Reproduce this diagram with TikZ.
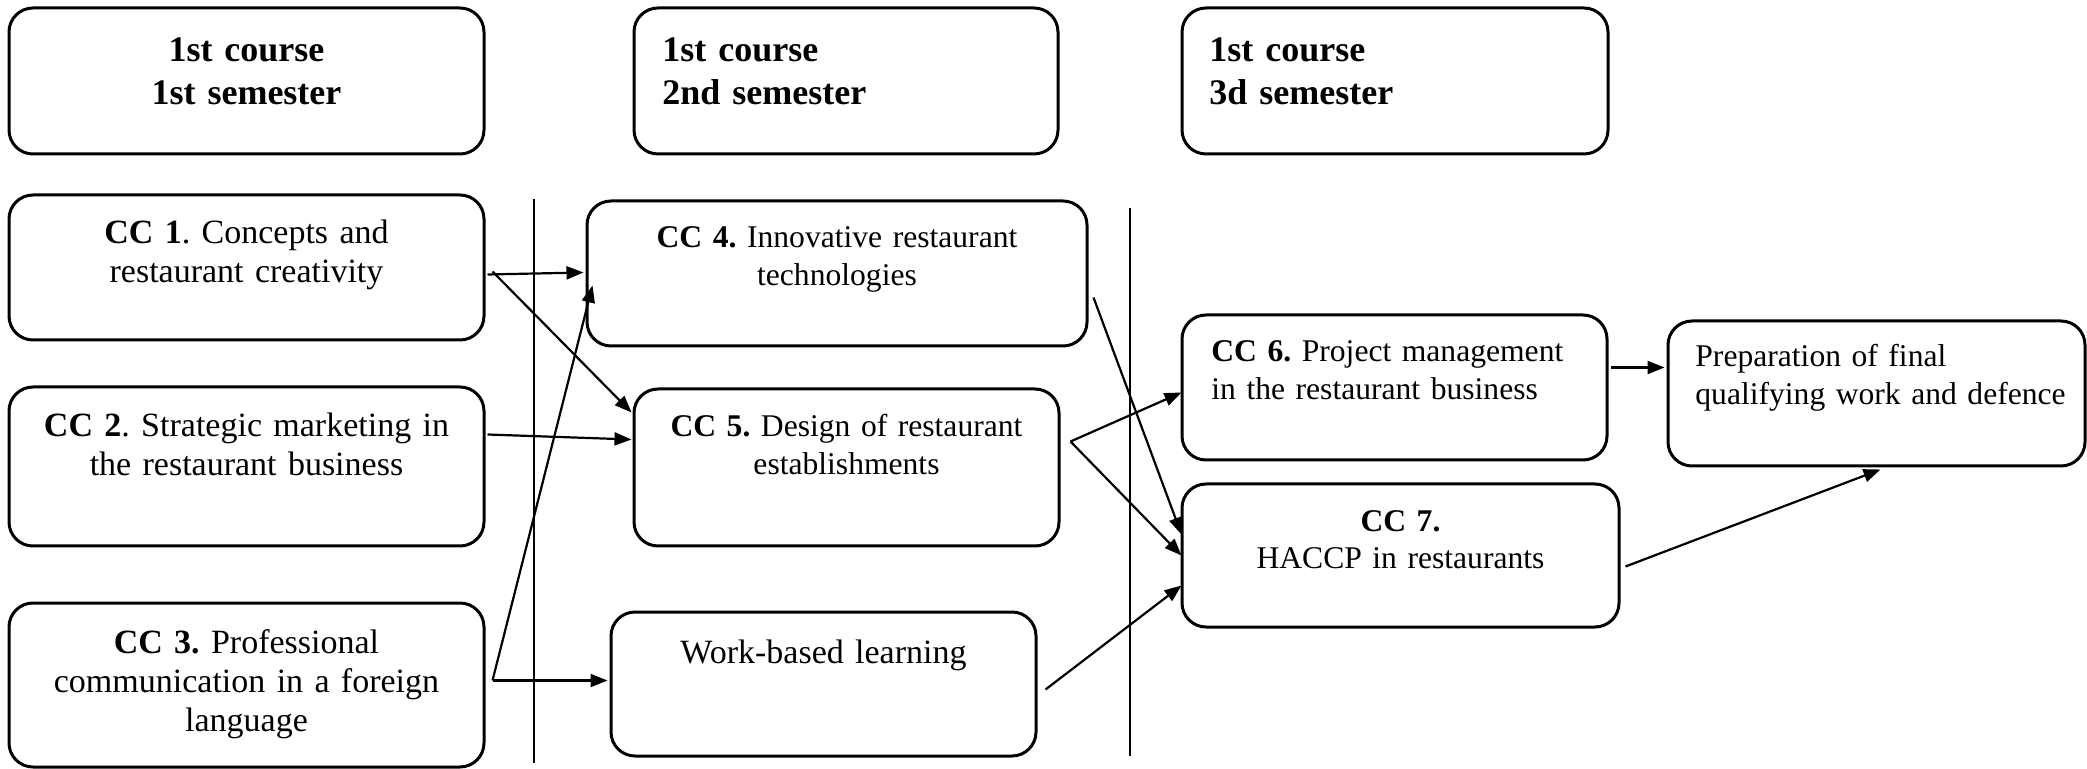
\documentclass[tikz,border=0pt]{standalone}
\usepackage{fontspec}
\setmainfont{Liberation Serif}
\usetikzlibrary{arrows.meta,calc}
\begin{document}
\frenchspacing
\begin{tikzpicture}[x=0.5pt,y=-0.5pt,
  cbox/.style={draw,line width=1.5pt,rounded corners=12pt,inner sep=0pt,rectangle},
  headc/.style={font=\fontsize{18}{21.5}\selectfont\bfseries,inner sep=0pt,
    text width=230pt,align=center,anchor=base},
  headl/.style={font=\fontsize{18}{21.5}\selectfont\bfseries,inner sep=0pt,
    text width=200pt,align=left,anchor=base west},
  bodyc/.style={font=\fontsize{17}{19.5}\selectfont,inner sep=0pt,
    text width=230pt,align=center,anchor=base},
  smallc/.style={font=\fontsize{15.8}{18.8}\selectfont,inner sep=0pt,
    text width=230pt,align=center,anchor=base},
  smalll/.style={font=\fontsize{15.8}{18.8}\selectfont,inner sep=0pt,
    text width=200pt,align=left,anchor=base west},
  link/.style={line width=1.1pt,-{Triangle[length=8.5pt,width=6.5pt]}},
  divider/.style={line width=0.6pt}]
\useasboundingbox (0,0) rectangle (2087,769);

% semester headers
\node[cbox,minimum width=237.5pt,minimum height=73pt] (h1) at (246.5,81) {};
\node[cbox,minimum width=212pt,minimum height=73pt] (h2) at (846,81) {};
\node[cbox,minimum width=213pt,minimum height=73pt] (h3) at (1395,81) {};
\node[headc] (h1t) at (246.5,62) {1st course\\1st semester};
\node[headl] (h2t) at (662,62) {1st course\\2nd semester};
\node[headl] (h3t) at (1209,62) {1st course\\3d semester};

% first semester courses
\node[cbox,minimum width=237.5pt,minimum height=72.5pt] (cc1) at (246.5,267.5) {};
\node[cbox,minimum width=237.5pt,minimum height=79.5pt] (cc2) at (246.5,466.5) {};
\node[cbox,minimum width=237.5pt,minimum height=82pt] (cc3) at (246.5,685) {};
\node[bodyc] (cc1t) at (246.5,244) {\textbf{CC 1}. Concepts and\\restaurant creativity};
\node[bodyc] (cc2t) at (246.5,437) {\textbf{CC 2}. Strategic marketing in\\the restaurant business};
\node[bodyc] (cc3t) at (246.5,653) {\textbf{CC 3.} Professional\\communication in a foreign\\language};

% second semester courses
\node[cbox,minimum width=250pt,minimum height=72.5pt] (cc4) at (837,273.5) {};
\node[cbox,minimum width=212.5pt,minimum height=78.5pt] (cc5) at (846.5,467.5) {};
\node[cbox,minimum width=212.5pt,minimum height=72pt] (wbl) at (823.5,684) {};
\node[smallc] (cc4t) at (837,248) {\textbf{CC 4.} Innovative restaurant\\technologies};
\node[smallc] (cc5t) at (846.5,437) {\textbf{CC 5.} Design of restaurant\\establishments};
\node[bodyc] (wblt) at (823.5,663) {Work-based learning};

% third semester courses and final work
\node[cbox,minimum width=212.5pt,minimum height=72.5pt] (cc6) at (1394.5,387.5) {};
\node[cbox,minimum width=218.5pt,minimum height=71.5pt] (cc7) at (1400.5,555.5) {};
\node[cbox,minimum width=208.5pt,minimum height=72.5pt] (fin) at (1876.5,393.5) {};
\node[smalll] (cc6t) at (1211,362) {\textbf{CC 6.} Project management\\in the restaurant business};
\node[smallc] (cc7t) at (1400.5,531) {\textbf{CC 7.}\\HACCP in restaurants};
\node[smalll] (fint) at (1695,367) {Preparation of final\\qualifying work and defence};

% semester dividers
\draw[divider] (534,199) -- (534,763);
\draw[divider] (1130,208) -- (1130,756);

% prerequisites
\draw[link] ($(cc1.north east)+(2,81)$) -- ($(cc4.north west)+(-2,73)$);
\draw[link] ($(cc1.north east)+(7,78)$) -- ($(cc5.north west)+(-1,25)$);
\draw[link] ($(cc2.north east)+(2,49)$) -- ($(cc5.north west)+(-1,52)$);
\draw[link] ($(cc3.north east)+(7,79)$) -- ($(cc4.north west)+(7,86)$);
\draw[link] ($(cc3.north east)+(7,79)$) -- ($(wbl.north west)+(-2,70)$);
\draw[link] ($(cc4.north east)+(5,98)$) -- ($(cc7.north west)+(1,52)$);
\draw[link] ($(cc5.north east)+(10,54)$) -- ($(cc6.north west)+(1,79)$);
\draw[link] ($(cc5.north east)+(10,54)$) -- ($(cc7.north west)+(1,73)$);
\draw[link] ($(wbl.north east)+(8,79)$) -- ($(cc7.north west)+(1,103)$);
\draw[link] ($(cc6.north east)+(2,54)$) -- ($(fin.north west)+(-2,48)$);
\draw[link] ($(cc7.north east)+(5,84)$) -- ($(fin.south west)+(214,2)$);
\end{tikzpicture}
\end{document}
